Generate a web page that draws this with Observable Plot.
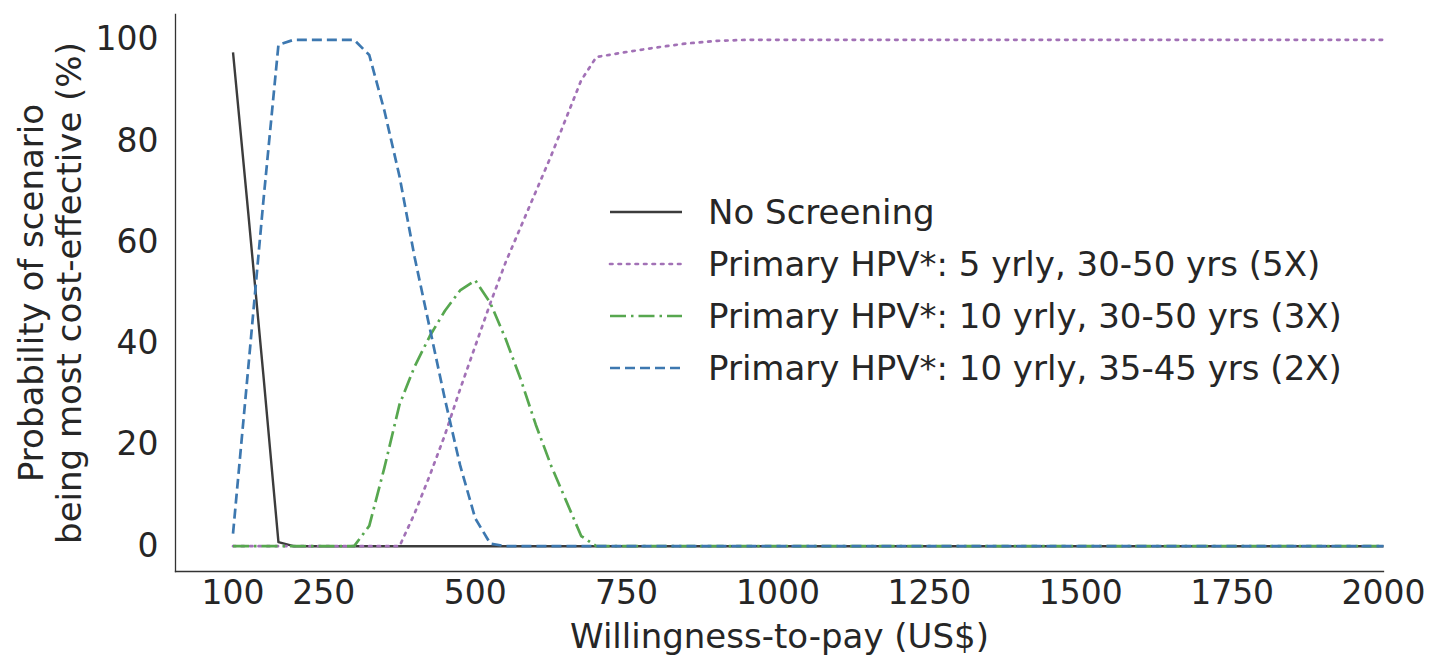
<!DOCTYPE html>
<html>
<head>
<meta charset="utf-8">
<script src="https://cdn.jsdelivr.net/npm/d3@7"></script>
<script src="https://cdn.jsdelivr.net/npm/@observablehq/plot@0.6"></script>
<style>
  html, body { margin: 0; padding: 0; background: #fff; }
  #wrap { position: relative; width: 1442px; height: 660px; font-family: "DejaVu Sans", sans-serif; color: #262626; }
  #legend { position: absolute; left: 608px; top: 186px; font-size: 34px; line-height: 52px; }
  #legend .row { display: flex; align-items: center; height: 52px; }
  #legend svg { margin-right: 24px; }
</style>
</head>
<body>
<div id="wrap"></div>
<script>
// Willingness-to-pay grid (US$)
const wtp = [100,125,150,175,200,225,250,275,300,325,350,375,400,425,450,475,500,525,550,575,600,625,650,675,700,750,800,850,900,950,1000,1250,1500,1750,2000];
// Probability (%) of each scenario being most cost-effective
const noScreening = [97.5,66,34,0.8,0,0,0,0,0,0,0,0,0,0,0,0,0,0,0,0,0,0,0,0,0,0,0,0,0,0,0,0,0,0,0];
const hpv5y3050  = [0,0,0,0,0,0,0,0,0,0,0,0,6.5,14,22,31,39.5,48,56,63,70,77,84.5,92,96.6,97.6,98.5,99.3,99.8,100,100,100,100,100,100];
const hpv10y3050 = [0,0,0,0,0,0,0,0,0,4,15.5,28,35.5,41.5,46.5,50.5,52.5,48,41,33,24,16,9,2,0,0,0,0,0,0,0,0,0,0,0];
const hpv10y3545 = [2.5,35,68,99,100,100,100,100,100,97,86,73,57,43,29,16,5.5,0.5,0,0,0,0,0,0,0,0,0,0,0,0,0,0,0,0,0];

const seriesNames = ["No Screening","Primary HPV*: 5 yrly, 30-50 yrs (5X)","Primary HPV*: 10 yrly, 30-50 yrs (3X)","Primary HPV*: 10 yrly, 35-45 yrs (2X)"];
const seriesValues = [noScreening, hpv5y3050, hpv10y3050, hpv10y3545];
const seriesColors = ["#3c3c3c","#a271b6","#57a74f","#3d78b0"];
const seriesDash = [null,"2.5,6","16,5,2.5,5","10,5"];

const xTicks = [100,250,500,750,1000,1250,1500,1750,2000];
const yTicks = [0,20,40,60,80,100];
const xLabel = "Willingness-to-pay (US$)";
const yLabel = "Probability of scenario\nbeing most cost-effective (%)";

const tables = seriesValues.map((vals) => wtp.map((x, i) => ({x, y: vals[i]})));

const font = "DejaVu Sans, sans-serif";
const chart = Plot.plot({
  width: 1442,
  height: 660,
  marginLeft: 175,
  marginRight: 59,
  marginTop: 14,
  marginBottom: 89,
  style: {fontFamily: font, fontSize: "33px", color: "#262626", background: "#fff"},
  x: {domain: [5, 2000]},
  y: {domain: [-5, 105]},
  marks: [
    Plot.axisX({ticks: xTicks, tickSize: 0, tickPadding: 9, label: null, tickFormat: d => String(d), fontSize: 33}),
    Plot.axisY({ticks: yTicks, tickSize: 0, tickPadding: 17, label: null, fontSize: 33}),
    ...tables.map((t, i) => Plot.line(t, {
      x: "x", y: "y",
      stroke: seriesColors[i],
      strokeWidth: i === 0 ? 2.4 : 2.7,
      strokeDasharray: seriesDash[i] ?? undefined,
      strokeLinecap: i === 1 ? "round" : "butt",
      curve: "linear"
    })),
    Plot.frame({anchor: "left", stroke: "#333", strokeWidth: 1.3}),
    Plot.frame({anchor: "bottom", stroke: "#333", strokeWidth: 1.3}),
    Plot.text([xLabel], {frameAnchor: "bottom", dy: 66, fontSize: 34, fill: "#262626", lineAnchor: "middle", textAnchor: "middle"}),
    Plot.text([yLabel], {frameAnchor: "left", dx: -126, rotate: -90, fontSize: 34, fill: "#262626", lineAnchor: "middle", textAnchor: "middle", lineHeight: 1.12})
  ]
});
const wrap = document.getElementById("wrap");
wrap.appendChild(chart);

// Legend overlay
const legend = document.createElement("div");
legend.id = "legend";
seriesNames.forEach((name, i) => {
  const row = document.createElement("div");
  row.className = "row";
  const sw = d3.create("svg").attr("width", 76).attr("height", 20);
  sw.append("line").attr("x1", 2).attr("x2", 74).attr("y1", 10).attr("y2", 10)
    .attr("stroke", seriesColors[i]).attr("stroke-width", i === 0 ? 2.4 : 2.7)
    .attr("stroke-dasharray", seriesDash[i])
    .attr("stroke-linecap", i === 1 ? "round" : "butt");
  row.appendChild(sw.node());
  const span = document.createElement("span");
  span.textContent = name;
  row.appendChild(span);
  legend.appendChild(row);
});
wrap.appendChild(legend);
</script>
</body>
</html>
